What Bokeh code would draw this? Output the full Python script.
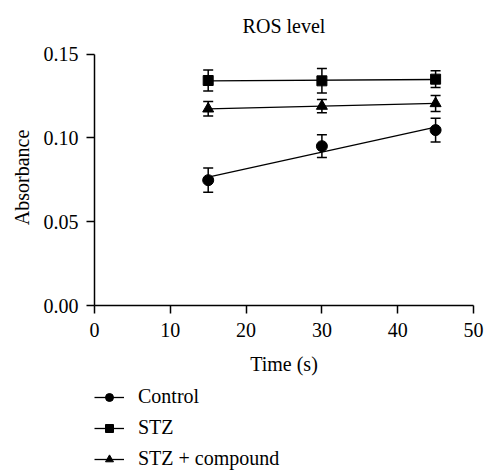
import numpy as np
from bokeh.plotting import figure
from bokeh.layouts import column
from bokeh.models import (Range1d, FixedTicker, PrintfTickFormatter, Whisker, TeeHead,
                          ColumnDataSource, Legend, LegendItem)
from bokeh.embed import file_html
from bokeh.resources import INLINE

# ---- data ----
time_s = [15, 30, 45]
control = [0.0748, 0.0951, 0.1047]
control_err = [0.0072, 0.0068, 0.0071]
stz = [0.1343, 0.1341, 0.1351]
stz_err = [0.0062, 0.0073, 0.0050]
stz_cmp = [0.1174, 0.1190, 0.1206]
stz_cmp_err = [0.0043, 0.0040, 0.0048]
series_names = ["Control", "STZ", "STZ + compound"]
series_markers = ["circle", "square", "triangle"]
x_ticks = [0, 10, 20, 30, 40, 50]
y_ticks = [0.0, 0.05, 0.10, 0.15]
y_max = 0.15

FONT = "Liberation Serif"
FS = "20px"

# frame is a little taller than the axis (axis bounded to 0..0.15) to leave room for the title
FRAME_H = 256
p = figure(frame_width=379, frame_height=FRAME_H, output_backend="svg", toolbar_location=None,
           x_range=Range1d(0, 50), y_range=Range1d(0, y_max * FRAME_H / 251.3),
           min_border_left=94, min_border_right=11, min_border_top=49, min_border_bottom=80)
p.outline_line_color = None
p.grid.visible = False

p.title.text = "ROS level"
p.title.align = "center"
p.title.vertical_align = "top"
p.title.text_font = FONT
p.title.text_font_size = FS
p.title.text_font_style = "normal"
p.title.text_color = "black"
p.title.standoff = 22

for ax in (p.xaxis[0], p.yaxis[0]):
    ax.axis_line_width = 1.5
    ax.axis_line_color = "black"
    ax.major_tick_line_width = 1.5
    ax.major_tick_line_color = "black"
    ax.major_tick_in = 0
    ax.major_tick_out = 8
    ax.minor_tick_line_color = None
    ax.major_label_text_font = FONT
    ax.major_label_text_font_size = FS
    ax.major_label_text_color = "black"
    ax.axis_label_text_font = FONT
    ax.axis_label_text_font_size = FS
    ax.axis_label_text_font_style = "normal"
    ax.axis_label_text_color = "black"

p.xaxis.ticker = FixedTicker(ticks=x_ticks)
p.yaxis.ticker = FixedTicker(ticks=y_ticks)
p.yaxis.bounds = (0, y_max)
p.yaxis.formatter = PrintfTickFormatter(format="%.2f")
p.xaxis.axis_label = "Time (s)"
p.yaxis.axis_label = "Absorbance"
p.xaxis.major_label_standoff = 9
p.xaxis.axis_label_standoff = 13
p.yaxis.major_label_standoff = 8
p.yaxis.axis_label_standoff = 8

# legend strip under the plot
pl = figure(width=484, height=85, output_backend="svg", toolbar_location=None,
            min_border_left=94, min_border_right=0, min_border_top=0, min_border_bottom=0)
pl.outline_line_color = None
pl.grid.visible = False
pl.axis.visible = False

items = []
for name, vals, errs, mk in zip(series_names, [control, stz, stz_cmp],
                                [control_err, stz_err, stz_cmp_err], series_markers):
    xs = np.array(time_s, dtype=float)
    ys = np.array(vals)
    es = np.array(errs)
    # linear fit line through the points
    k, b = np.polyfit(xs, ys, 1)
    fit_x = [xs.min(), xs.max()]
    fit_y = [k * fit_x[0] + b, k * fit_x[1] + b]
    p.line(fit_x, fit_y, line_color="black", line_width=1.3)
    src = ColumnDataSource(dict(x=xs, y=ys, upper=ys + es, lower=ys - es))
    w = Whisker(source=src, base="x", upper="upper", lower="lower",
                line_color="black", line_width=1.5,
                upper_head=TeeHead(size=10, line_width=1.5, line_color="black"),
                lower_head=TeeHead(size=10, line_width=1.5, line_color="black"))
    p.add_layout(w)
    size = 11 if mk != "square" else 10
    p.scatter("x", "y", source=src, marker=mk, size=size,
              fill_color="black", line_color="black")
    # legend keys (hidden renderers in the legend strip, used only for the key glyphs)
    lk = pl.line(xs, ys, line_color="black", line_width=1.3, visible=False)
    mkr = pl.scatter(xs, ys, marker=mk, size=8, fill_color="black",
                     line_color="black", visible=False)
    items.append(LegendItem(label=name, renderers=[lk, mkr]))

legend = Legend(items=items, location="top_left", padding=0, margin=0,
                spacing=8, glyph_width=30, glyph_height=20, label_height=20,
                label_standoff=14, background_fill_alpha=0, border_line_alpha=0,
                inactive_fill_alpha=0,
                label_text_font=FONT, label_text_font_size=FS, label_text_color="black")
pl.add_layout(legend, "center")

layout = column(p, pl, spacing=0)
open("out.html", "w").write(file_html(layout, INLINE))
